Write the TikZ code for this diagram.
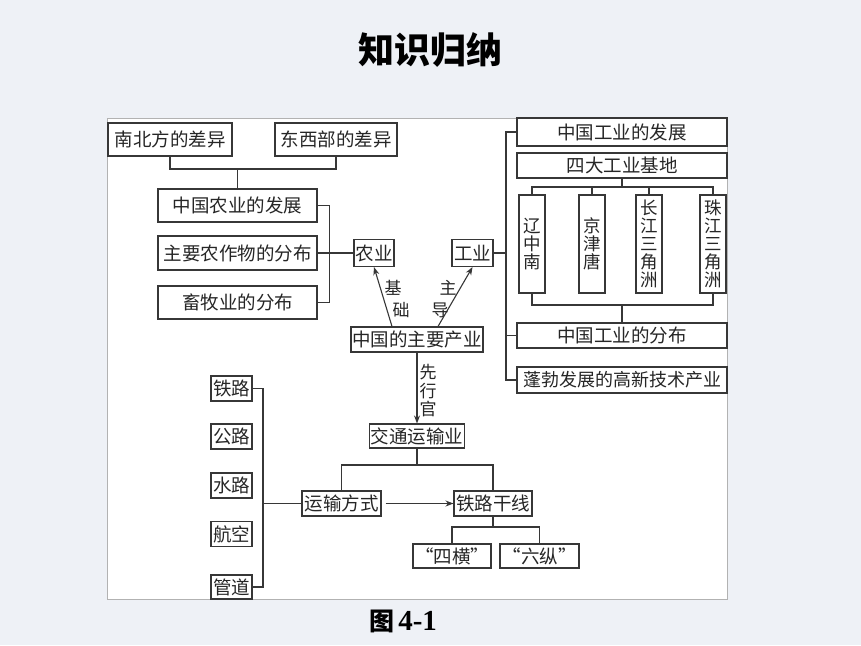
\documentclass[tikz,border=0pt]{standalone}
\usepackage{fontspec}
\setmainfont{Noto Sans CJK SC}
\newfontfamily\capfont{Liberation Serif}
\usetikzlibrary{arrows.meta}
\definecolor{bgc}{RGB}{238,241,246}
\definecolor{lnc}{RGB}{55,55,55}
\tikzset{
  bx/.style={draw=lnc, line width=1.1pt, fill=white, inner sep=0pt, anchor=center, text=black!85,
    font=\fontsize{18.5}{20}\selectfont},
  vbx/.style={bx, minimum width=26pt, minimum height=98pt, align=center,
    font=\fontsize{17.5}{18}\selectfont},
  ln/.style={draw=lnc, line width=1.1pt},
  arr/.style={ln, -{Stealth[length=8pt,width=6pt]}},
  lbl/.style={inner sep=0pt, text=black!85, font=\fontsize{17}{18.5}\selectfont, align=center}
}
\begin{document}
\begin{tikzpicture}[x=1pt,y=-1pt]
\useasboundingbox (0,0) rectangle (861,645);
\fill[bgc] (0,0) rectangle (861,645);
\fill[white] (107,118) rectangle (727,599);
\draw[black!30, line width=0.8pt] (107,118) rectangle (727,599);

% title and caption
\node[inner sep=0pt, font=\fontsize{36}{40}\selectfont\bfseries] (title) at (430,50) {知识归纳};
\node[inner sep=0pt, font=\bfseries] (cap) at (403,621) {\fontsize{25}{28}\selectfont 图\,\capfont\fontsize{29}{30}\selectfont\bfseries 4-1};

% agriculture side
\node[bx, minimum width=124pt, minimum height=33pt] (nb) at (170,139.5) {南北方的差异};
\node[bx, minimum width=122pt, minimum height=33pt] (dx) at (336,139.5) {东西部的差异};
\node[bx, minimum width=159pt, minimum height=33pt] (nyfz) at (237.5,205.5) {中国农业的发展};
\node[bx, minimum width=159pt, minimum height=34pt] (zw) at (237.5,253) {主要农作物的分布};
\node[bx, minimum width=159pt, minimum height=33pt] (xm) at (237.5,302.5) {畜牧业的分布};
\node[bx, minimum width=40pt, minimum height=27pt] (ny) at (374,253) {农业};
\node[bx, minimum width=41pt, minimum height=27pt] (gy) at (472.5,253) {工业};
\node[bx, minimum width=132pt, minimum height=25pt] (cy) at (417,339.5) {中国的主要产业};

\coordinate (j1) at (237.5,169);
\draw[ln] (nb.south) |- (j1) -| (dx.south);
\draw[ln] (j1) -- (nyfz.north);
\draw[ln] (nyfz.east) -- ++(12,0) |- (xm.east);
\draw[ln] (zw.east) -- (ny.west);

\draw[arr] ([xshift=-25pt]cy.north) -- (ny.south);
\draw[arr] ([xshift=21pt]cy.north) -- (gy.south);
\node[lbl] (l1) at (393,288) {基};
\node[lbl] (l2) at (401,310) {础};
\node[lbl] (l3) at (448,288) {主};
\node[lbl] (l4) at (440,310) {导};

% industry side
\node[bx, minimum width=210pt, minimum height=28pt] (gf) at (622,132) {中国工业的发展};
\node[bx, minimum width=210pt, minimum height=25pt] (sd) at (622,165.5) {四大工业基地};
\node[vbx] (v1) at (532,244) {辽\\中\\南};
\node[vbx] (v2) at (592,244) {京\\津\\唐};
\node[vbx] (v3) at (649,244) {长\\江\\三\\角\\洲};
\node[vbx] (v4) at (713,244) {珠\\江\\三\\角\\洲};
\node[bx, minimum width=210pt, minimum height=25pt] (gfb) at (622,335.5) {中国工业的分布};
\node[bx, minimum width=210pt, minimum height=26pt] (pb) at (622,380) {\fontsize{18}{20}\selectfont 蓬勃发展的高新技术产业};

\coordinate (rb) at (506,0);
\draw[ln] (gf.west) -- (gf.west -| rb) |- (pb.west);
\draw[ln] (gy.east) -- (gy.east -| rb);
\draw[ln] (gfb.west) -- (gfb.west -| rb);

\coordinate (j2) at (622,187);
\draw[ln] (sd.south) -- (j2);
\draw[ln] (v1.north) |- (j2) -| (v4.north);
\draw[ln] (v2.north) -- (v2.north |- j2);
\draw[ln] (v3.north) -- (v3.north |- j2);
\coordinate (j3) at (622,305);
\draw[ln] (v1.south) |- (j3) -| (v4.south);
\draw[ln] (j3) -- (gfb.north);

% transport
\node[bx, minimum width=95pt, minimum height=24pt] (jt) at (417,436) {交通运输业};
\draw[arr] (cy.south) -- (jt.north);
\node[lbl, font=\fontsize{17}{18.5}\selectfont] (xxg) at (428,391) {先\\行\\官};

\node[bx, minimum width=79pt, minimum height=25pt] (ys) at (341.5,503.5) {运输方式};
\node[bx, minimum width=78pt, minimum height=25pt] (tg) at (493,503.5) {铁路干线};
\coordinate (j4) at (417,465);
\draw[ln] (jt.south) -- (j4);
\draw[ln] (ys.north) |- (j4) -| (tg.north);
\draw[arr] ([xshift=4pt]ys.east) -- (tg.west);

\node[bx, minimum width=78pt, minimum height=24pt] (sh) at (452,556) {“四横”};
\node[bx, minimum width=79pt, minimum height=24pt] (lz) at (539.5,556) {“六纵”};
\coordinate (j5) at (493,527);
\draw[ln] (tg.south) -- (j5);
\draw[ln] (sh.north) |- (j5) -| (lz.north);

\node[bx, minimum width=41pt, minimum height=25pt] (tl) at (231.5,388.5) {铁路};
\node[bx, minimum width=41pt, minimum height=25pt] (gl) at (231.5,436.5) {公路};
\node[bx, minimum width=41pt, minimum height=25pt] (sl) at (231.5,485.5) {水路};
\node[bx, minimum width=41pt, minimum height=25pt] (hk) at (231.5,534) {航空};
\node[bx, minimum width=41pt, minimum height=24pt] (gd) at (231.5,587) {管道};
\coordinate (lb) at (263,0);
\draw[ln] (tl.east) -- (tl.east -| lb) |- (gd.east);
\draw[ln] (ys.west) -- (ys.west -| lb);
\end{tikzpicture}
\end{document}
